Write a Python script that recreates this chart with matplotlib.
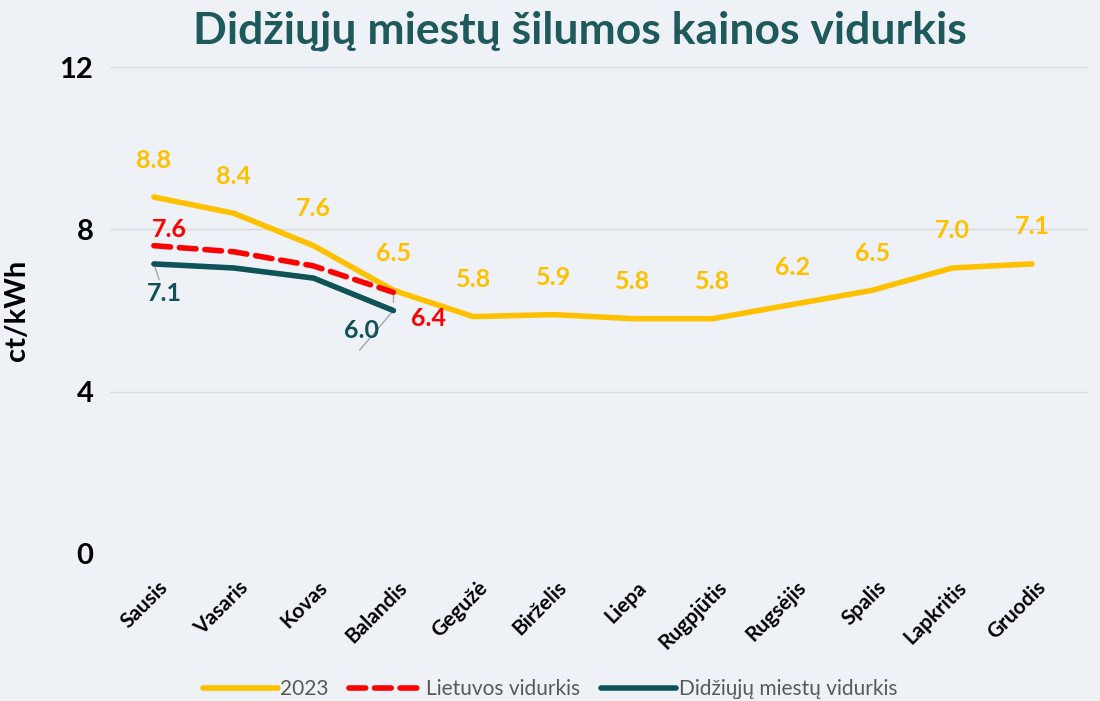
import matplotlib
matplotlib.use("Agg")
import matplotlib.pyplot as plt
from matplotlib.transforms import ScaledTranslation

plt.rcParams['font.family'] = ['Lato', 'DejaVu Sans']

months = ["Sausis", "Vasaris", "Kovas", "Balandis", "Gegužė", "Birželis", "Liepa",
          "Rugpjūtis", "Rugsėjis", "Spalis", "Lapkritis", "Gruodis"]
y2023 = [8.8, 8.4, 7.6, 6.5, 5.85, 5.9, 5.8, 5.8, 6.15, 6.5, 7.05, 7.15]
lt_avg = [7.6, 7.45, 7.1, 6.45]
big_avg = [7.15, 7.05, 6.8, 6.0]
lbl2023 = ["8.8", "8.4", "7.6", "6.5", "5.8", "5.9", "5.8", "5.8", "6.2", "6.5", "7.0", "7.1"]

bg = "#EEF2F6"
c_y = "#FFC000"
c_r = "#FF0000"
c_t = "#0F5257"

fig = plt.figure(figsize=(11, 7.01), dpi=100, facecolor=bg)
ax = fig.add_axes([0.1, 0.21, 0.889, 0.694], facecolor=bg)

x = list(range(len(months)))
ax.plot(x, y2023, color=c_y, lw=4, solid_capstyle='round', label="2023", zorder=3)
ax.plot(x[:4], lt_avg, color=c_r, lw=4, ls=(0, (3, 1.6)), dash_capstyle='round',
        label="Lietuvos vidurkis", zorder=4)
ax.plot(x[:4], big_avg, color=c_t, lw=4, solid_capstyle='round',
        label="Didžiųjų miestų vidurkis", zorder=5)

ax.set_xlim(-0.55, 11.7)
ax.set_ylim(0, 12)
ax.set_yticks([0, 4, 8, 12])
ax.grid(axis='y', color='#D9D9D9', lw=1)
ax.set_axisbelow(True)
for s in ax.spines.values():
    s.set_visible(False)
ax.tick_params(length=0)
ax.tick_params(axis='y', labelsize=21, pad=12)
ax.tick_params(axis='x', pad=22)
ax.set_xticks(x)
ax.set_xticklabels(months, rotation=45, ha='right', va='center', rotation_mode='anchor',
                   fontsize=15, fontweight='bold')
shift = ScaledTranslation(0.11, 0, fig.dpi_scale_trans)
for t in ax.get_xticklabels():
    t.set_transform(t.get_transform() + shift)
for t in ax.get_yticklabels():
    t.set_fontweight('bold')
ax.set_ylabel("ct/kWh", fontsize=21, fontweight='bold', labelpad=8)
ax.yaxis.set_label_coords(-0.082, 0.5)

fs = 18
for i, (v, l) in enumerate(zip(y2023, lbl2023)):
    ax.annotate(l, (i, v), xytext=(0, 37), textcoords='offset pixels', ha='center',
                va='center', color=c_y, fontsize=fs, fontweight='bold')

ax.annotate("7.6", (0, lt_avg[0]), xytext=(15, 16), textcoords='offset pixels',
            ha='center', va='center', color=c_r, fontsize=fs, fontweight='bold')
ax.annotate("6.4", (3, lt_avg[3]), xytext=(35, -26), textcoords='offset pixels',
            ha='center', va='center', color=c_r, fontsize=fs, fontweight='bold',
            arrowprops=dict(arrowstyle='-', color='#A6A6A6', lw=1,
                            connectionstyle='angle,angleA=0,angleB=90,rad=0',
                            shrinkA=16, shrinkB=0))
ax.annotate("7.1", (0, big_avg[0]), xytext=(10, -30), textcoords='offset pixels',
            ha='center', va='center', color=c_t, fontsize=fs, fontweight='bold',
            arrowprops=dict(arrowstyle='-', color='#A6A6A6', lw=1, shrinkA=18, shrinkB=0))
ax.annotate("6.0", (3, big_avg[3]), xytext=(-32, -20), textcoords='offset pixels',
            ha='center', va='center', color=c_t, fontsize=fs, fontweight='bold',
            arrowprops=dict(arrowstyle='-', color='#A6A6A6', lw=1, shrinkA=0, shrinkB=0,
                            relpos=(0.45, -0.35)))

fig.suptitle("Didžiųjų miestų šilumos kainos vidurkis", x=0.527, y=0.985,
             fontsize=32, fontweight='bold', color="#1E5A5C")

leg = fig.legend(loc='lower center', bbox_to_anchor=(0.5, -0.024), ncol=3, frameon=False,
                 fontsize=15, handlelength=3.6, handletextpad=0.1, columnspacing=1.0)
for t in leg.get_texts():
    t.set_color('#595959')

fig.savefig("out.png", dpi=100, facecolor=bg)
